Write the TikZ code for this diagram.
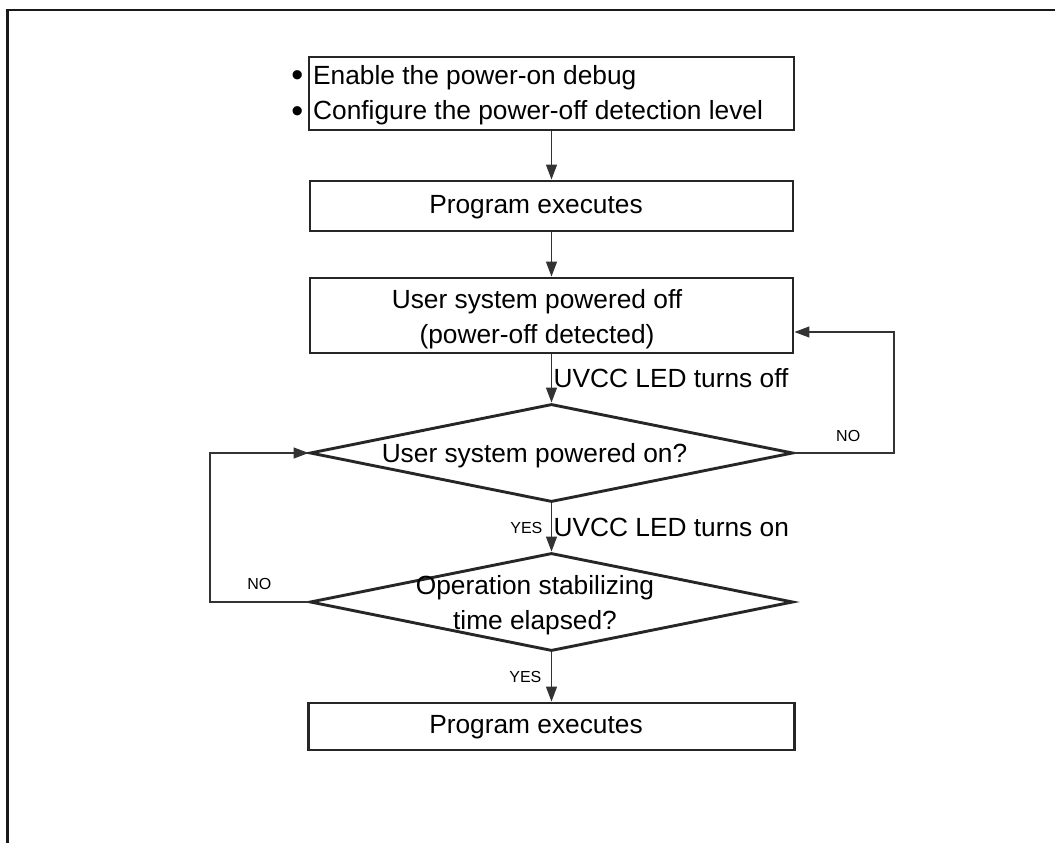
\documentclass[tikz,border=0pt]{standalone}
\usepackage{fontspec}
\setmainfont{Liberation Sans}
\usetikzlibrary{shapes.geometric,arrows.meta}

\newcommand{\bigdot}{\llap{\raisebox{-2.5pt}{\fontsize{34}{0}\selectfont•}\hspace{10pt}}}

\begin{document}
\begin{tikzpicture}[x=1pt,y=-1pt,
  font=\fontsize{26.3}{35.5}\selectfont,
  stepbox/.style={draw=black!85,line width=2.9pt,minimum width=483pt,inner sep=0pt},
  decide/.style={diamond,draw=black!85,line width=2.9pt,minimum width=483pt,minimum height=98pt,inner sep=0pt},
  conn/.style={draw=black!80,line width=1.3pt,-{Triangle[length=15pt,width=11pt]}},
  txt/.style={inner sep=0pt,align=center},
  small/.style={font=\fontsize{16}{18}\selectfont,inner sep=0pt}]

\useasboundingbox (0,0) rectangle (1055,843);

% page frame
\draw[line width=2.6pt,black!90] (1055,10) -- (7.5,10) -- (7.5,843);

% process boxes and decisions
\node[stepbox,minimum width=485pt,minimum height=73pt] (init) at (551.5,93.5) {};
\node[txt,anchor=west,align=left] (initt) at (313,95)
  {\bigdot Enable the power-on debug\\\bigdot Configure the power-off detection level};

\node[stepbox,minimum height=50pt] (run1) at (551.5,206) {};
\node[txt,anchor=base] (run1t) at (536,213) {Program executes};

\node[stepbox,minimum height=75pt] (off) at (551.5,315.5) {};
\node[txt] (offt) at (537,319) {User system powered off\\(power-off detected)};

\node[decide] (pon) at (551.5,453) {};
\node[txt] (pont) at (534.5,456) {User system powered on?};

\node[decide] (stab) at (551.5,602) {};
\node[txt] (stabt) at (535,605) {Operation stabilizing\\time elapsed?};

\node[stepbox,minimum width=486pt,minimum height=47pt] (run2) at (551.5,726.5) {};
\node[txt,anchor=base] (run2t) at (536,733) {Program executes};

% loop corners
\coordinate (rloop) at (894,332);
\coordinate (lloop) at (210,453);

% connectors
\draw[conn] (init) -- (run1);
\draw[conn] (run1) -- (off);
\draw[conn] (off) -- node[txt,anchor=west,xshift=1.5pt] (lbloff) {UVCC LED turns off} (pon);
\draw[conn] (pon) -- node[txt,anchor=west,xshift=1.5pt] (lblon) {UVCC LED turns on}
  node[small,anchor=east,xshift=-8.5pt] (yes1) {YES} (stab);
\draw[conn] (stab) -- node[small,anchor=east,xshift=-9.5pt] (yes2) {YES} (run2);
\draw[conn] (pon.east) -| node[small,pos=0.27,above=11pt] (no1) {NO} (rloop) -- (rloop -| off.east);
\draw[conn] (stab.west) -| node[small,pos=0.25,above=12pt] (no2) {NO} (lloop) -- (pon.west);
\end{tikzpicture}
\end{document}
